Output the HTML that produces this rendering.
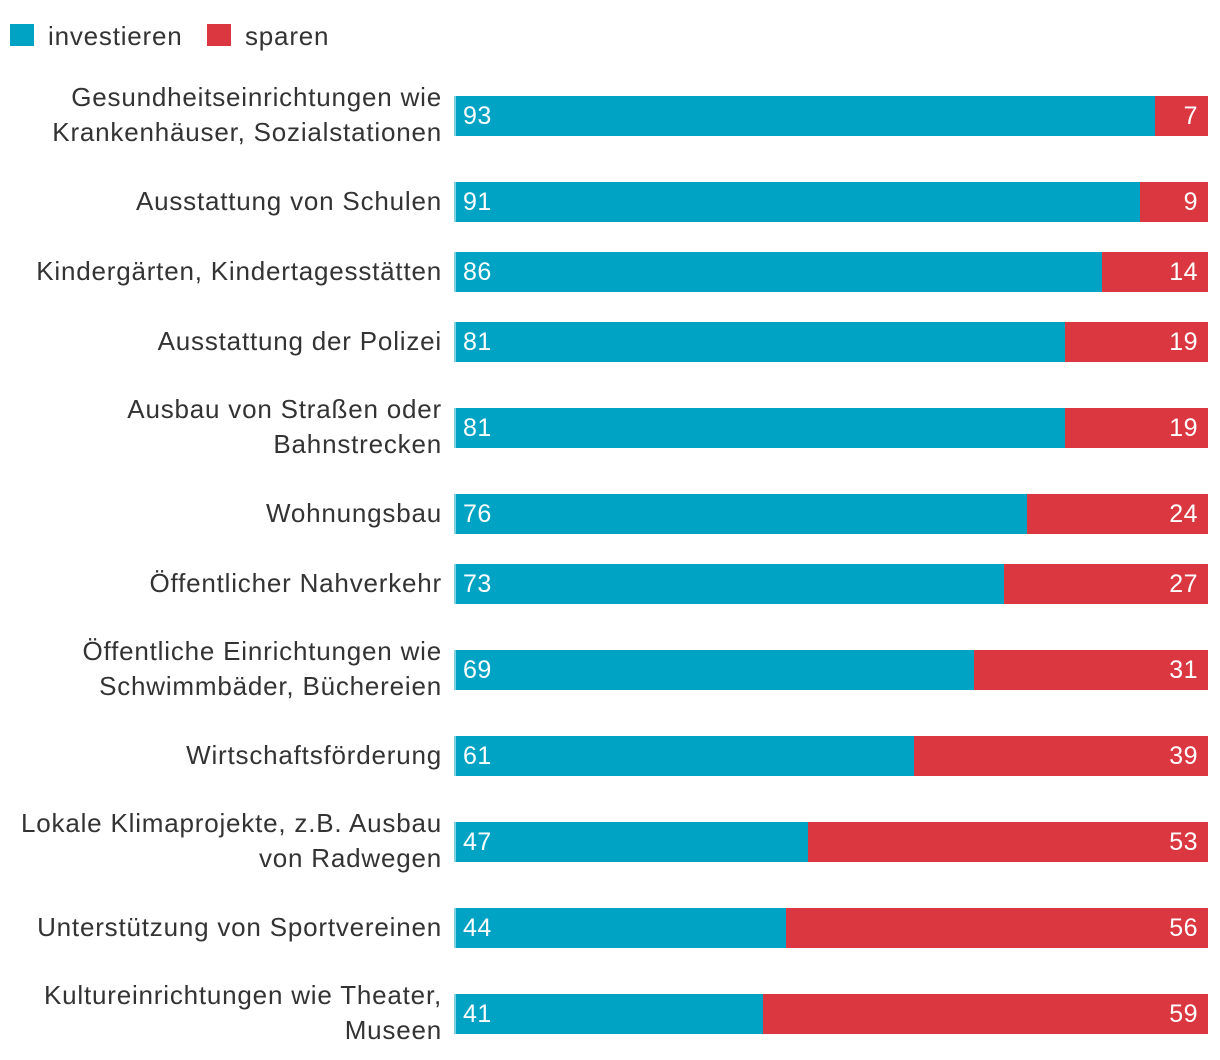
<!DOCTYPE html>
<html><head><meta charset="utf-8"><style>
body{margin:0;background:#fff;width:1220px;height:1060px;position:relative;overflow:hidden;font-family:"Liberation Sans",sans-serif;color:#333}
.lbl{position:absolute;right:778px;text-align:right;font-size:26px;letter-spacing:0.8px;line-height:35px;white-space:nowrap}
.bar{position:absolute;height:40px}
.val{position:absolute;color:#fff;font-size:25px;line-height:40px;letter-spacing:0.5px}
.sw{position:absolute;top:2px;width:24px;height:22px}
</style></head><body>
<div style="position:absolute;left:10px;top:22px;font-size:26px;letter-spacing:0.8px;line-height:28px">
<span style="position:absolute;left:0;top:0;white-space:nowrap;padding-left:38px"><span class="sw" style="left:0;background:#00a3c4"></span>investieren</span>
<span style="position:absolute;left:197px;top:0;white-space:nowrap;padding-left:38px"><span class="sw" style="left:0;background:#db3740"></span>sparen</span>
</div>
<div id="chart"></div>
<script>
const categories=[["Gesundheitseinrichtungen wie","Krankenhäuser, Sozialstationen"],["Ausstattung von Schulen"],["Kindergärten, Kindertagesstätten"],["Ausstattung der Polizei"],["Ausbau von Straßen oder","Bahnstrecken"],["Wohnungsbau"],["Öffentlicher Nahverkehr"],["Öffentliche Einrichtungen wie","Schwimmbäder, Büchereien"],["Wirtschaftsförderung"],["Lokale Klimaprojekte, z.B. Ausbau","von Radwegen"],["Unterstützung von Sportvereinen"],["Kultureinrichtungen wie Theater,","Museen"]];
const investieren=[93,91,86,81,81,76,73,69,61,47,44,41];
const sparen=[7,9,14,19,19,24,27,31,39,53,56,59];
const chart=document.getElementById('chart');
const x0=454,x1=1208;
const xs=v=>v/100*(x1-x0);
let y=96;
categories.forEach((c,i)=>{
  const two=c.length>1;
  if(i>0) y+= (two||categories[i-1].length>1)?86:70;
  const l=document.createElement('div');l.className='lbl';
  
  
  l.innerHTML=c.join('<br>');
  l.style.top=(two? y-16 : y+2)+'px';
  chart.appendChild(l);
  const tot=investieren[i]+sparen[i];
  const wi=xs(investieren[i]/tot*100);
  const b=document.createElement('div');b.className='bar';
  
  
  b.style.cssText+=`left:${x0}px;top:${y}px;width:${wi}px;background:#00a3c4;border-left:2px solid #7fd0e0;box-sizing:border-box`;
  chart.appendChild(b);
  const r=document.createElement('div');r.className='bar';
  
  
  r.style.cssText+=`left:${x0+wi}px;top:${y}px;width:${x1-x0-wi}px;background:#db3740`;
  chart.appendChild(r);
  const v1=document.createElement('div');v1.className='val';
  
  
  v1.textContent=investieren[i];v1.style.left='463px';v1.style.top=y+'px';
  chart.appendChild(v1);
  const v2=document.createElement('div');v2.className='val';
  
  
  v2.textContent=sparen[i];v2.style.right=(1220-1198)+'px';v2.style.top=y+'px';
  chart.appendChild(v2);
});
</script>
</body></html>
